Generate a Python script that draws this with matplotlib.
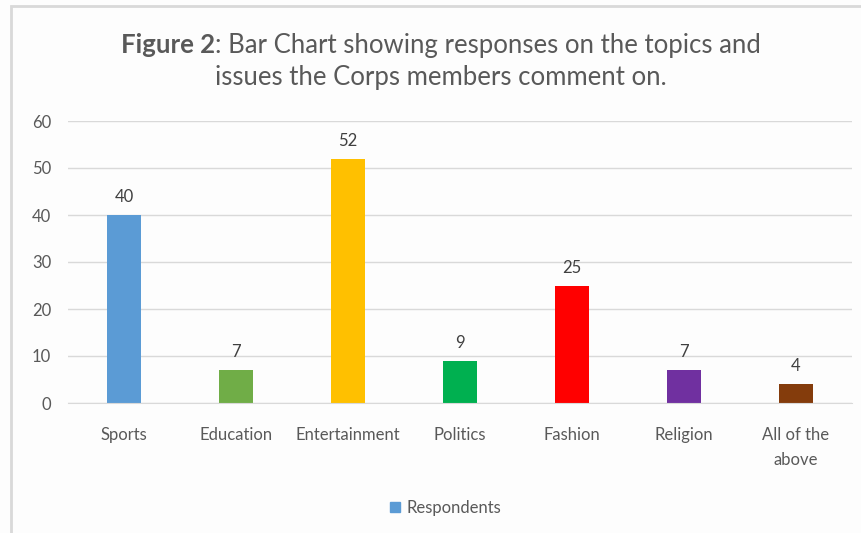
import matplotlib.pyplot as plt
from matplotlib.patches import Patch, Rectangle

topics = ["Sports", "Education", "Entertainment", "Politics", "Fashion", "Religion", "All of the\nabove"]
respondents = [40, 7, 52, 9, 25, 7, 4]
bar_colors = ["#5B9BD5", "#70AD47", "#FFC000", "#00B050", "#FF0000", "#7030A0", "#843C0C"]
yticks = [0, 10, 20, 30, 40, 50, 60]

plt.rcParams['font.family'] = ['Lato', 'DejaVu Sans']

fig = plt.figure(figsize=(8.62, 5.33), dpi=100, facecolor="#fdfdfd")
ax = fig.add_axes([68 / 862, 130 / 533, 784 / 862, 282 / 533])
ax.set_facecolor("#fdfdfd")

x = range(len(topics))
bars = ax.bar(x, respondents, width=0.30, color=bar_colors, zorder=3)
for xi, v in zip(x, respondents):
    ax.annotate(str(v), (xi, v), xytext=(0, 7), textcoords="offset points",
                ha="center", va="bottom", fontsize=12, color="#404040")

ax.set_xlim(-0.5, len(topics) - 0.5)
ax.set_ylim(0, 60)
ax.set_yticks(yticks)
ax.set_xticks(list(x))
ax.set_xticklabels(topics, linespacing=1.75)
ax.tick_params(axis="x", length=0, pad=17, labelsize=12, labelcolor="#595959")
ax.tick_params(axis="y", length=0, pad=12, labelsize=12, labelcolor="#595959")
ax.grid(axis="y", color="#d9d9d9", linewidth=1, zorder=0)
for s in ["top", "right", "left"]:
    ax.spines[s].set_visible(False)
ax.spines["bottom"].set_color("#d9d9d9")
ax.spines["bottom"].set_zorder(4)

# two-part title: bold label followed by regular caption
fig.canvas.draw()
renderer = fig.canvas.get_renderer()
line1_bold = "Figure 2"
line1_rest = ": Bar Chart showing responses on the topics and"
t_bold = fig.text(0, 0, line1_bold, fontsize=18.5, fontweight="bold", color="#595959")
t_rest = fig.text(0, 0, line1_rest, fontsize=18.5, color="#595959")
w_bold = t_bold.get_window_extent(renderer).width
w_rest = t_rest.get_window_extent(renderer).width
x0 = (441 - (w_bold + w_rest) / 2) / 862
y1 = 1 - 53 / 533
t_bold.set_position((x0, y1))
t_rest.set_position((x0 + w_bold / 862, y1))
fig.text(441 / 862, 1 - 85 / 533, "issues the Corps members comment on.",
         fontsize=18.5, color="#595959", ha="center")

ax.legend(handles=[Patch(color="#5B9BD5", label="Respondents")],
          loc="center", bbox_to_anchor=(446 / 862, 1 - 508 / 533),
          bbox_transform=fig.transFigure, frameon=False, fontsize=12,
          handlelength=0.6, handleheight=0.6, handletextpad=0.4,
          labelcolor="#595959")

# outer chart frame (left and top edges)
fig.patches.append(Rectangle((11 / 862, -0.1), 1.1, 1.1 - 6 / 533,
                             transform=fig.transFigure, fill=False,
                             edgecolor="#d9d9d9", linewidth=2))

fig.savefig("out.png", dpi=100, facecolor=fig.get_facecolor())
